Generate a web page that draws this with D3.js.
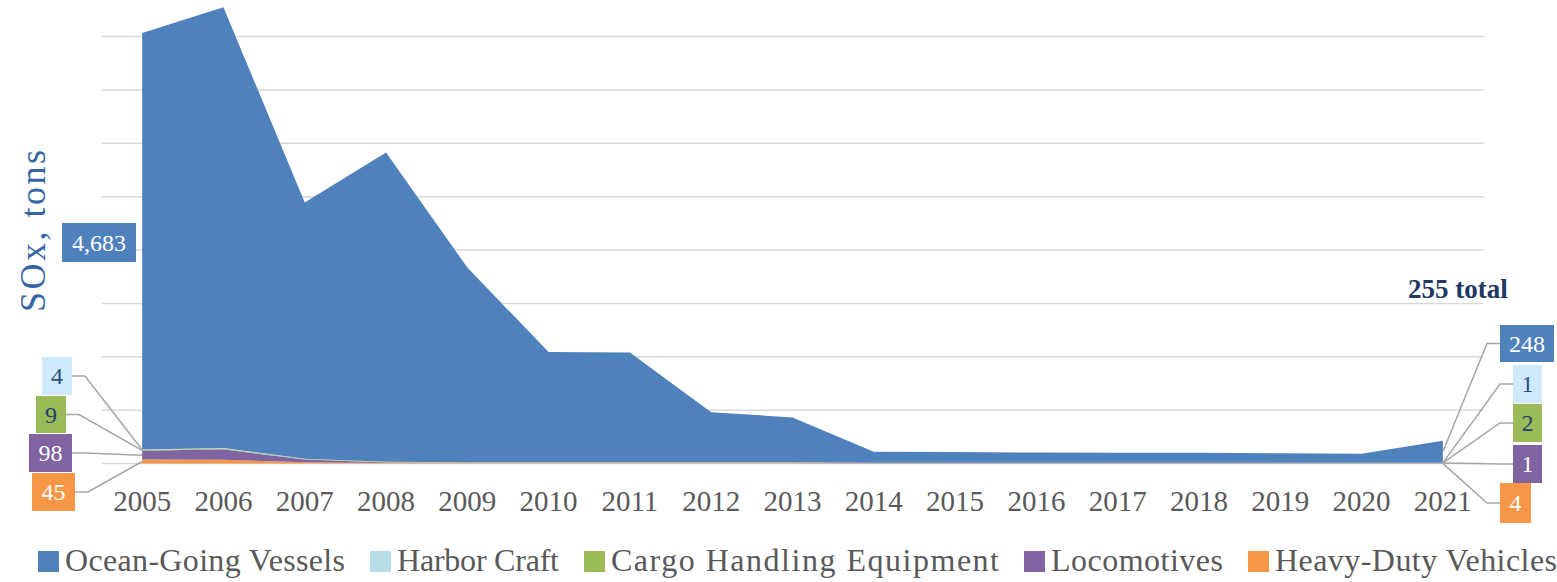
<!DOCTYPE html>
<html>
<head>
<meta charset="utf-8">
<script src="https://cdn.jsdelivr.net/npm/d3@7"></script>
<style>
  html, body { margin: 0; padding: 0; background: #fff; }
  svg { display: block; font-family: "Liberation Serif", "DejaVu Serif", serif; }
</style>
</head>
<body>
<svg id="chart" width="1557" height="582"></svg>
<script>
// ---- data ----
const years = [2005, 2006, 2007, 2008, 2009, 2010, 2011, 2012, 2013, 2014, 2015, 2016, 2017, 2018, 2019, 2020, 2021];
const oceanGoing    = [4683, 4956, 2881, 3476, 2189, 1239, 1233, 564, 505, 123, 120, 114, 112, 112, 106, 101, 248];
const harborCraft   = [4, 4, 3, 3, 2, 2, 2, 2, 2, 1, 1, 1, 1, 1, 1, 1, 1];
const cargoHandling = [9, 9, 7, 5, 3, 3, 3, 3, 3, 2, 2, 2, 2, 2, 2, 2, 2];
const locomotives   = [98, 118, 30, 6, 4, 4, 4, 3, 3, 2, 2, 2, 2, 2, 1, 1, 1];
const heavyDuty     = [45, 42, 14, 6, 5, 5, 5, 5, 5, 4, 4, 4, 4, 4, 4, 4, 4];
const seriesNames = ["Ocean-Going Vessels", "Harbor Craft", "Cargo Handling Equipment", "Locomotives", "Heavy-Duty Vehicles"];
const gridValues = [0, 600, 1200, 1800, 2400, 3000, 3600, 4200, 4800];
const reportedTotal2021 = 255;
const axisTitle = "SOx, tons";

// ---- styles / layout ----
const keys = ["ogv", "hc", "che", "loco", "hdv"];
const colors = { ogv: "#4f81bd", hc: "#b7dee8", che: "#9bbb59", loco: "#8064a2", hdv: "#f79646" };
const boxColors = { ogv: "#4f81bd", hc: "#cdeafa", che: "#9bbb59", loco: "#8064a2", hdv: "#f79646" };
const boxText = { ogv: "#ffffff", hc: "#2a4f80", che: "#22406e", loco: "#ffffff", hdv: "#ffffff" };
const leftBoxes = {
  ogv:  { x: 62, y: 223, w: 74, h: 39, line: false },
  hc:   { x: 42, y: 357, w: 30, h: 38, line: true },
  che:  { x: 36, y: 396, w: 30, h: 37, line: true },
  loco: { x: 29, y: 434, w: 43, h: 38, line: true },
  hdv:  { x: 32, y: 473, w: 43, h: 38, line: true }
};
const rightBoxes = {
  ogv:  { x: 1500, y: 325, w: 54, h: 37 },
  hc:   { x: 1513, y: 365, w: 29, h: 38 },
  che:  { x: 1513, y: 404, w: 29, h: 38 },
  loco: { x: 1513, y: 445, w: 29, h: 38 },
  hdv:  { x: 1500, y: 483, w: 31, h: 40 }
};
const legendTextWidths = [280, 162, 388, 172, 282];

const table = years.map((yr, i) => ({
  year: yr,
  ogv: oceanGoing[i], hc: harborCraft[i], che: cargoHandling[i], loco: locomotives[i], hdv: heavyDuty[i]
}));

const svg = d3.select("#chart");
const x = d3.scaleBand().domain(years).range([101.5, 1483.5]).padding(0);
const cx = d => x(d) + x.bandwidth() / 2;
const y = d3.scaleLinear().domain([0, 4800]).range([463.5, 36.5]);

// gridlines
svg.append("g").selectAll("line").data(gridValues).join("line")
  .attr("x1", 101.5).attr("x2", 1483.5)
  .attr("y1", d => y(d)).attr("y2", d => y(d))
  .attr("stroke", "#d9d9d9").attr("stroke-width", 1.5);

// stack: bottom to top hdv, loco, che, hc, ogv
const stackOrder = ["hdv", "loco", "che", "hc", "ogv"];
const stacked = d3.stack().keys(stackOrder)(table);
const area = d3.area()
  .x(d => cx(d.data.year))
  .y0(d => y(d[0]))
  .y1(d => y(d[1]));

svg.append("g").selectAll("path").data(stacked).join("path")
  .attr("d", area)
  .attr("fill", d => colors[d.key]);

const layerMid = (key, idx) => {
  const s = stacked.find(l => l.key === key)[idx];
  return y((s[0] + s[1]) / 2);
};

// year labels
svg.append("g").selectAll("text").data(years).join("text")
  .attr("x", d => cx(d)).attr("y", 511)
  .attr("text-anchor", "middle")
  .attr("font-size", 29).attr("fill", "#595959")
  .text(d => d);

// leader lines + label boxes
const fmt = d3.format(",");
const first = 0, last = years.length - 1;
const lines = svg.append("g").attr("fill", "none").attr("stroke", "#a6a6a6").attr("stroke-width", 1.5);

keys.forEach(k => {
  const b = leftBoxes[k];
  if (b.line) {
    const my = b.y + b.h / 2;
    lines.append("path").attr("d", d3.line()([[b.x + b.w, my], [b.x + b.w + 13, my], [cx(years[first]), layerMid(k, first)]]));
  }
  const r = rightBoxes[k];
  const ry = r.y + r.h / 2;
  lines.append("path").attr("d", d3.line()([[r.x, ry], [r.x - 13, ry], [cx(years[last]), layerMid(k, last)]]));
});

const boxes = svg.append("g");
keys.forEach(k => {
  [[leftBoxes[k], table[first][k]], [rightBoxes[k], table[last][k]]].forEach(([b, v]) => {
    boxes.append("rect").attr("x", b.x).attr("y", b.y).attr("width", b.w).attr("height", b.h)
      .attr("fill", boxColors[k]);
    boxes.append("text").attr("x", b.x + b.w / 2).attr("y", b.y + b.h / 2 + 8)
      .attr("text-anchor", "middle").attr("font-size", 24).attr("fill", boxText[k])
      .text(fmt(v));
  });
});

// total label
svg.append("text").attr("x", 1408).attr("y", 298)
  .attr("font-size", 27).attr("font-weight", "bold").attr("fill", "#1f3864")
  .text(reportedTotal2021 + " total");

// axis title
svg.append("text").attr("transform", "translate(45,312) rotate(-90)")
  .attr("text-anchor", "start").attr("font-size", 36).attr("fill", "#3565a5")
  .attr("textLength", 162).attr("lengthAdjust", "spacing")
  .text(axisTitle);

// legend
const legend = svg.append("g");
let lx = 38;
keys.forEach((k, i) => {
  legend.append("rect").attr("x", lx).attr("y", 551).attr("width", 21).attr("height", 21).attr("fill", colors[k]);
  legend.append("text").attr("x", lx + 27).attr("y", 571)
    .attr("font-size", 32).attr("fill", "#595959")
    .attr("textLength", legendTextWidths[i]).attr("lengthAdjust", "spacing")
    .text(seriesNames[i]);
  lx += 27 + legendTextWidths[i] + 25;
});
</script>
</body>
</html>
